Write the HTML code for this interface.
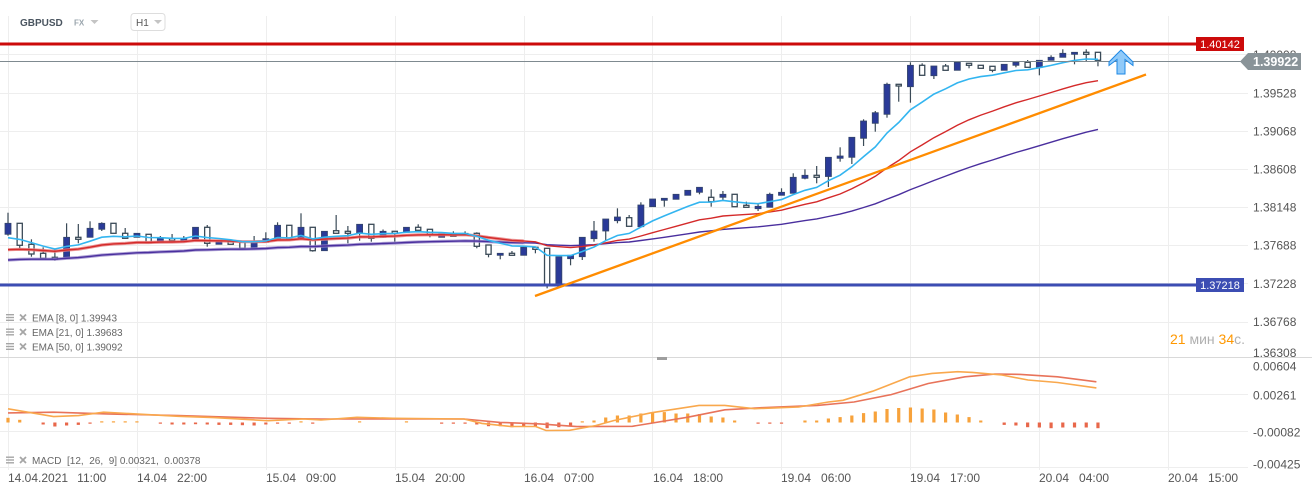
<!DOCTYPE html>
<html><head><meta charset="utf-8"><style>
html,body{margin:0;padding:0;background:#fff;width:1312px;height:493px;overflow:hidden}
svg{display:block;font-family:"Liberation Sans",sans-serif}
</style></head><body>
<svg id="s" width="1312" height="493" viewBox="0 0 1312 493" xmlns="http://www.w3.org/2000/svg">
<rect width="1312" height="493" fill="#fff"/>
<!-- grid -->
<g stroke="#eeeeee" stroke-width="1">
<line x1="8.5" y1="16" x2="8.5" y2="470"/><line x1="137.5" y1="16" x2="137.5" y2="470"/><line x1="266.5" y1="16" x2="266.5" y2="470"/><line x1="395.5" y1="16" x2="395.5" y2="470"/><line x1="524.5" y1="16" x2="524.5" y2="470"/><line x1="652.5" y1="16" x2="652.5" y2="470"/><line x1="781.5" y1="16" x2="781.5" y2="470"/><line x1="910.5" y1="16" x2="910.5" y2="470"/><line x1="1039.5" y1="16" x2="1039.5" y2="470"/><line x1="1168.5" y1="16" x2="1168.5" y2="470"/>
<line x1="0" y1="54.5" x2="1248" y2="54.5"/><line x1="0" y1="93.5" x2="1248" y2="93.5"/><line x1="0" y1="131.5" x2="1248" y2="131.5"/><line x1="0" y1="169.5" x2="1248" y2="169.5"/><line x1="0" y1="207.5" x2="1248" y2="207.5"/><line x1="0" y1="245.5" x2="1248" y2="245.5"/><line x1="0" y1="283.5" x2="1248" y2="283.5"/><line x1="0" y1="322.5" x2="1248" y2="322.5"/>
<line x1="0" y1="394.5" x2="1248" y2="394.5"/><line x1="0" y1="431.5" x2="1248" y2="431.5"/><line x1="0" y1="467.5" x2="1248" y2="467.5"/>
</g>
<line x1="0" y1="357.5" x2="1312" y2="357.5" stroke="#d9d9d9" stroke-width="1"/>
<rect x="657" y="357" width="10" height="3" fill="#9e9e9e"/>

<!-- header -->
<text x="20" y="26" font-size="10" font-weight="bold" fill="#4a5560">GBPUSD</text>
<text x="74" y="25.5" font-size="8" font-weight="bold" fill="#9aa5ad">FX</text>
<polygon points="90.5,20 98.5,20 94.5,24" fill="#c4c4c4"/>
<rect x="131" y="13.5" width="34" height="17" rx="3" fill="#fff" stroke="#dddddd"/>
<text x="136" y="26" font-size="10" fill="#555">H1</text>
<polygon points="154,20 162,20 158,24" fill="#c4c4c4"/>

<g id="cd"></g>
<g id="ema"></g>

<!-- level lines -->
<line x1="0" y1="44" x2="1197" y2="44" stroke="#cc0a0a" stroke-width="3"/>
<line x1="0" y1="61.5" x2="1241" y2="61.5" stroke="#7f8a90" stroke-width="1"/>
<line x1="0" y1="285" x2="1197" y2="285" stroke="#3c4db3" stroke-width="3"/>
<line x1="535" y1="296" x2="1146" y2="74.5" stroke="#ff8c00" stroke-width="2.3"/>

<!-- arrow -->
<polygon points="1121,50 1133,62 1133,65.5 1125,59.5 1125,74 1117,74 1117,59.5 1109,65.5 1109,62" fill="#90caf9" stroke="#1e88e5" stroke-width="1"/>

<!-- right axis main -->
<g font-size="12" fill="#555">
<text x="1253" y="59">1.40008</text>
<text x="1253" y="97.5">1.39528</text>
<text x="1253" y="135.5">1.39068</text>
<text x="1253" y="173.5">1.38608</text>
<text x="1253" y="211.5">1.38148</text>
<text x="1253" y="249.5">1.37688</text>
<text x="1253" y="288">1.37228</text>
<text x="1253" y="326">1.36768</text>
<text x="1253" y="357">1.36308</text>
<text x="1253" y="370.5">0.00604</text>
<text x="1253" y="399.5">0.00261</text>
<text x="1253" y="436.5">-0.00082</text>
<text x="1253" y="468.5">-0.00425</text>
</g>
<rect x="1196" y="37" width="48" height="14" fill="#cc0a0a"/>
<text x="1220" y="48" font-size="11" fill="#fff" text-anchor="middle">1.40142</text>
<polygon points="1240,61.5 1248,53 1301,53 1301,70 1248,70" fill="#899398"/>
<text x="1253" y="66" font-size="12.5" font-weight="bold" fill="#fff">1.39922</text>
<rect x="1196" y="278" width="48" height="14" fill="#3c4db3"/>
<text x="1220" y="289" font-size="11" fill="#fff" text-anchor="middle">1.37218</text>

<!-- timer -->
<text x="1245" y="344" font-size="14" text-anchor="end"><tspan fill="#ff9800">21</tspan><tspan fill="#b0b0b0"> мин </tspan><tspan fill="#ff9800">34</tspan><tspan fill="#b0b0b0">с.</tspan></text>

<!-- legends -->
<g id="leg"></g>
<g font-size="10" fill="#666">
<text x="32" y="321.5">EMA [8, 0] 1.39943</text>
<text x="32" y="336">EMA [21, 0] 1.39683</text>
<text x="32" y="350.5">EMA [50, 0] 1.39092</text>
<text x="32" y="464" xml:space="preserve">MACD  [12,  26,  9] 0.00321,  0.00378</text>
</g>

<!-- MACD -->
<g id="hist"></g>
<polyline fill="none" stroke="#e8735a" stroke-width="1.6" points="8,412.9 53.6,412.2 107,413.9 178.6,415.6 268,418.3 321,419 464,419 500,422.4 540,423.9 577,426.6 632.4,426.3 687.9,417.2 724.8,409.8 761.8,407.7 817.3,405.4 854,402 891.2,394.6 928.2,383.5 965,376.8 994.7,374.1 1020.6,374.4 1057.6,376.8 1096.4,381.8"/>
<polyline fill="none" stroke="#f9a84d" stroke-width="1.6" points="8,408.8 53.6,416.6 78.6,415.6 103.6,412.2 135.7,413.9 178.6,416.3 214,417.6 268,420.7 303.6,419 321,420 357,417.3 393,418.3 464,419 482,423.4 510.7,426.5 535.7,426.5 546,430.5 569.6,430.3 595.5,425.6 614,420.5 651,412.8 699,405.4 724.8,405.4 754.4,408.7 798.8,407 828.4,402 843,400.3 872.7,391.2 909.7,376.8 932,373.4 957.7,371.7 972.5,372.4 1002,375 1028,380 1057.6,382.5 1096.4,387.9"/>

<!-- time axis -->
<g font-size="12" fill="#555">
<text x="8" y="482">14.04.2021<tspan dx="10">11:00</tspan></text>
<text x="137" y="482">14.04<tspan dx="10">22:00</tspan></text>
<text x="266" y="482">15.04<tspan dx="10">09:00</tspan></text>
<text x="395" y="482">15.04<tspan dx="10">20:00</tspan></text>
<text x="524" y="482">16.04<tspan dx="10">07:00</tspan></text>
<text x="653" y="482">16.04<tspan dx="10">18:00</tspan></text>
<text x="781" y="482">19.04<tspan dx="10">06:00</tspan></text>
<text x="910" y="482">19.04<tspan dx="10">17:00</tspan></text>
<text x="1039" y="482">20.04<tspan dx="10">04:00</tspan></text>
<text x="1168" y="482">20.04<tspan dx="10">15:00</tspan></text>
</g>
</svg>
<script>
(function(){
var NS="http://www.w3.org/2000/svg";
var C=[[223.3,234.3,212.7,235.7,1],[223.3,245.3,223.3,248.3,0],[244.3,254,239.3,256.7,0],[253.3,258.3,247.3,258.3,0],[257.3,259.3,249.3,260.7,0],[237.3,258.7,223.3,258.7,1],[237.3,239.3,224,243.3,0],[228.3,237.3,221.3,237.3,1],[223.3,229.3,222.3,231,1],[223.3,233.3,223.3,233.3,0],
[233.3,238.3,228,238.3,0],[233.3,237.3,233.3,237.3,1],[234.3,242.7,234.3,242.7,0],[238.3,242.3,236,242.3,1],[238.7,240.7,234,240.7,0],[238.7,240.7,236,240.7,1],[227.3,239.3,227.3,239.3,1],[227.3,243.3,225,246.7,0],[241.7,244.3,241.7,244.3,1],[241.7,244.3,239.3,244.3,0],
[242,248.3,242,248.3,0],[241.7,248.3,236,248.3,1],[238.7,242.3,232.3,242.3,1],[225.3,238.8,222.3,238.8,1],[225.3,239,225.3,239,0],[227.3,239,213.3,239,1],[227.3,250.7,227.3,251.7,0],[231.3,250.7,231.3,250.7,1],[230.7,233.3,215,233.3,0],[231.3,233.3,226,243.3,0],
[224.3,232.7,224.3,240.7,1],[224.3,238.3,224.3,241.7,0],[231.3,237.3,229.5,238,1],[231.3,233.3,231.3,241.7,0],[227.3,232.3,227.3,232.3,1],[227.3,230.3,224.3,232.3,0],[229.3,234.3,229.3,237.3,0],[233.7,237.3,233.7,237.3,1],[234.3,236.3,231.3,236.3,0],[233.3,235,231.3,235,1],
[233.3,246.3,232.3,248.3,0],[245,254.3,245,257.3,0],[253.3,255.3,253.3,259.3,1],[253.3,255.3,251,255.3,0],[247.3,255.3,247.3,255.3,1],[247.3,249.3,247.3,253.3,0],[248.3,285,248.3,288.3,0],[256.7,285,256.7,285,1],[255.3,258.7,255.3,265.3,1],[237.3,256.7,237.3,260,1],
[231,238.7,221,241.7,1],[219,231,219,240,1],[217,220.7,208.3,223.3,1],[217.7,226.3,215,226.3,0],[205,226.7,202.3,226.7,1],[199,206.7,199,206.7,1],[198.3,200.3,198.3,206.7,1],[194.3,199.3,194.3,199.3,1],[190.3,195.3,190.3,195.3,1],[187.3,192.3,187.3,194.3,1],
[197.3,201.7,189.3,206.7,0],[194.3,197.3,191,200,1],[194.3,206.7,194.3,206.7,0],[205.3,207.3,201.7,207.3,0],[206.3,208.7,204.3,211,1],[194.3,207.3,192.7,207.3,1],[192.3,195.3,188.3,195.3,1],[177.3,193.3,173.3,193.3,1],[175.3,178.3,169.3,179.3,1],[175.3,177.3,166,183.3,0],
[157.3,176.5,157.3,187,1],[156,158.3,147.3,161.7,1],[137.3,157.3,137.3,164,1],[121,138.3,119.3,146,1],[112.7,123.3,111,131.7,1],[84.3,114.3,82.7,117.7,1],[84.3,86,84.3,101.7,0],[65.3,86.7,62.3,102.7,1],[65.3,75.3,63.3,75.3,0],[66,75.7,66,79,1],
[66,70.3,64,70.3,0],[62.3,70.3,62.3,70.3,1],[63.3,65.3,63.3,68.3,0],[65.3,68.3,65.3,68.3,0],[66.3,70.3,66.3,72.3,0],[64.3,70.3,64.3,70.3,1],[62.3,65.3,62.3,67.3,1],[62.3,67.3,60,67.3,0],[60.3,67.3,60.3,75.3,1],[57.3,60.3,55.3,60.3,1],
[53.3,57.3,49.3,57.3,1],[52.3,54.3,52.3,64.3,1],[52.3,54.3,49.3,61,0],[52.3,60.3,52.3,66.3,0]];
var H=[4.7,2.7,0,-2,-4,-3,-2.4,-0.8,0.6,0.6,0.6,0.6,0,-0.8,-2,-2,-1.7,-2,-2.4,-2.4,-2.7,-3,-2,-0.8,-0.8,0.6,-0.8,0,0,0,0.6,0,0,0,0.6,0,0,-0.8,-0.8,-0.8,-2,-3.7,-3.7,-4.7,-4.4,-4.4,-5.7,-4.7,-3.7,0.6,2,5,7,7,9,10.4,10.4,9,9,8.4,6,5,2,0,-0.8,-0.8,-0.8,0,2,2,4,5.4,7,9.4,11,13.5,14.5,15,14,13,10,8,5.4,2,0,-2.4,-3,-4.7,-5,-5.7,-5,-5,-5,-5.7];
function X(i){return 8+i*11.72;}
function el(tag,attrs,parent){var e=document.createElementNS(NS,tag);for(var k in attrs)e.setAttribute(k,attrs[k]);parent.appendChild(e);return e;}
var cd=document.getElementById("cd");
C.forEach(function(c,i){var x=X(i);
 el("line",{x1:x,x2:x,y1:c[2],y2:c[3],stroke:"#3a4a57","stroke-width":"1.2"},cd);
 var h=Math.max(c[1]-c[0],1.6);
 if(c[4]) el("rect",{x:x-3,y:c[0],width:6,height:h,fill:"#2a3a98",stroke:"#34456a","stroke-width":"0.8"},cd);
 else el("rect",{x:x-2.6,y:c[0],width:5.2,height:h,fill:"#fff",stroke:"#3a4a57","stroke-width":"1.3"},cd);
});
function ema(n,init){var k=2/(n+1),e=init,p=[];C.forEach(function(c,i){var cl=c[4]?c[0]:c[1];if(i>0)e=e+k*(cl-e);p.push(X(i).toFixed(1)+","+e.toFixed(1));});return p;}
var g=document.getElementById("ema");
var p50=ema(50,260),p21=ema(21,249.7),p8=ema(8,237.7);
el("polyline",{points:p50.slice(0,45).join(" "),fill:"none",stroke:"#9a8acb","stroke-width":"3.2","stroke-opacity":"0.8"},g);
el("polyline",{points:p50.join(" "),fill:"none",stroke:"#4a2f9e","stroke-width":"1.4"},g);
el("polyline",{points:p21.slice(0,45).join(" "),fill:"none",stroke:"#e88080","stroke-width":"3.2","stroke-opacity":"0.85"},g);
el("polyline",{points:p21.join(" "),fill:"none",stroke:"#d42a2a","stroke-width":"1.4"},g);
el("polyline",{points:p8.join(" "),fill:"none",stroke:"#33b5f0","stroke-width":"1.6"},g);
var hg=document.getElementById("hist"),B=422.5;
H.forEach(function(h,i){if(h===0)return;var x=X(i);var a=Math.abs(h);if(a<1)a=1.2;
 el("rect",{x:x-1.6,y:h>0?B-a:B,width:3.2,height:a,fill:h>0?"#f7a23b":"#e8674a"},hg);});
var lg=document.getElementById("leg");
[317.5,332,346.5,460].forEach(function(y){
 el("rect",{x:6,y:y-3.5,width:8,height:1.4,fill:"#a6a6a6"},lg);
 el("rect",{x:6,y:y-0.7,width:8,height:1.4,fill:"#a6a6a6"},lg);
 el("rect",{x:6,y:y+2.1,width:8,height:1.4,fill:"#a6a6a6"},lg);
 el("line",{x1:20,y1:y-3,x2:26,y2:y+3,stroke:"#a6a6a6","stroke-width":"1.8"},lg);
 el("line",{x1:26,y1:y-3,x2:20,y2:y+3,stroke:"#a6a6a6","stroke-width":"1.8"},lg);
});
})();
</script>
</body></html>
